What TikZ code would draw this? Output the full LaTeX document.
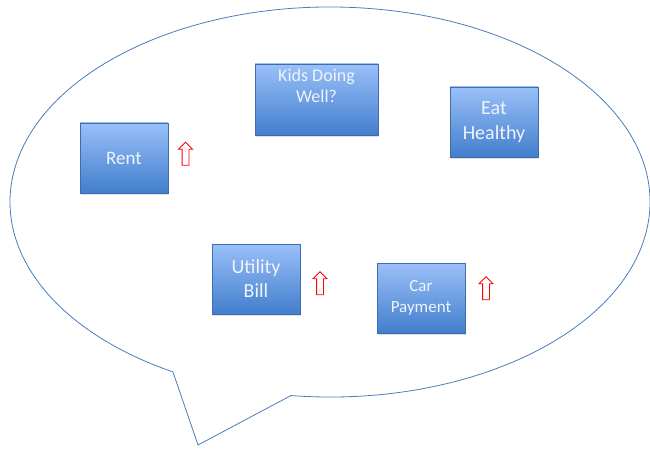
\documentclass[tikz,border=0pt]{standalone}
\usepackage{fontspec}
\setmainfont{Carlito}
\usetikzlibrary{shapes.arrows,shadows}
\definecolor{bubbleline}{HTML}{4A7EBB}
\definecolor{boxline}{HTML}{3D6DB0}
\definecolor{boxtop}{HTML}{9AC0F8}
\definecolor{boxbot}{HTML}{427ECD}
\definecolor{boxtext}{HTML}{EEF4FC}

\begin{document}
\begin{tikzpicture}[x=1pt,y=1pt,
    bx/.style={rectangle,draw=boxline,line width=0.7pt,top color=boxtop,bottom color=boxbot,
        text=boxtext,align=center,minimum width=88pt,minimum height=70pt,inner sep=2pt,
        drop shadow={opacity=0.25,shadow xshift=1pt,shadow yshift=-2pt}},
    up/.style={single arrow,draw=red,line width=0.9pt,fill=white,shape border rotate=90,
        inner sep=3pt,minimum height=23pt,single arrow head extend=3.5pt}]
    \useasboundingbox (0,0) rectangle (650,448);
    % speech bubble
    \coordinate (c) at (330,246);
    \coordinate (tip) at (198,3);
    \draw[bubbleline,line width=0.8pt] ([shift={(c)}]263:320pt and 195pt)
        arc[start angle=263,end angle=600.6,x radius=320pt,y radius=195pt] -- (tip) -- cycle;
    % boxes
    \node[bx,font=\fontsize{19}{23}\selectfont] (rent) at (124,290) {Rent};
    \node[bx,minimum width=123pt,minimum height=71pt,text depth=28pt,
        font=\fontsize{18}{21}\selectfont] (kids) at (316.5,348.5) {Kids Doing\\Well?};
    \node[bx,font=\fontsize{20}{25}\selectfont] (eat) at (494,326) {Eat\\Healthy};
    \node[bx,font=\fontsize{20}{24}\selectfont] (util) at (256,169) {Utility\\Bill};
    \node[bx,font=\fontsize{17}{21}\selectfont] (car) at (421,150) {Car\\Payment};
    % arrows
    \node[up] (uprent) at (185.5,292.5) {};
    \node[up] (uputil) at (320,163) {};
    \node[up] (upcar) at (486,158) {};
\end{tikzpicture}
\end{document}
